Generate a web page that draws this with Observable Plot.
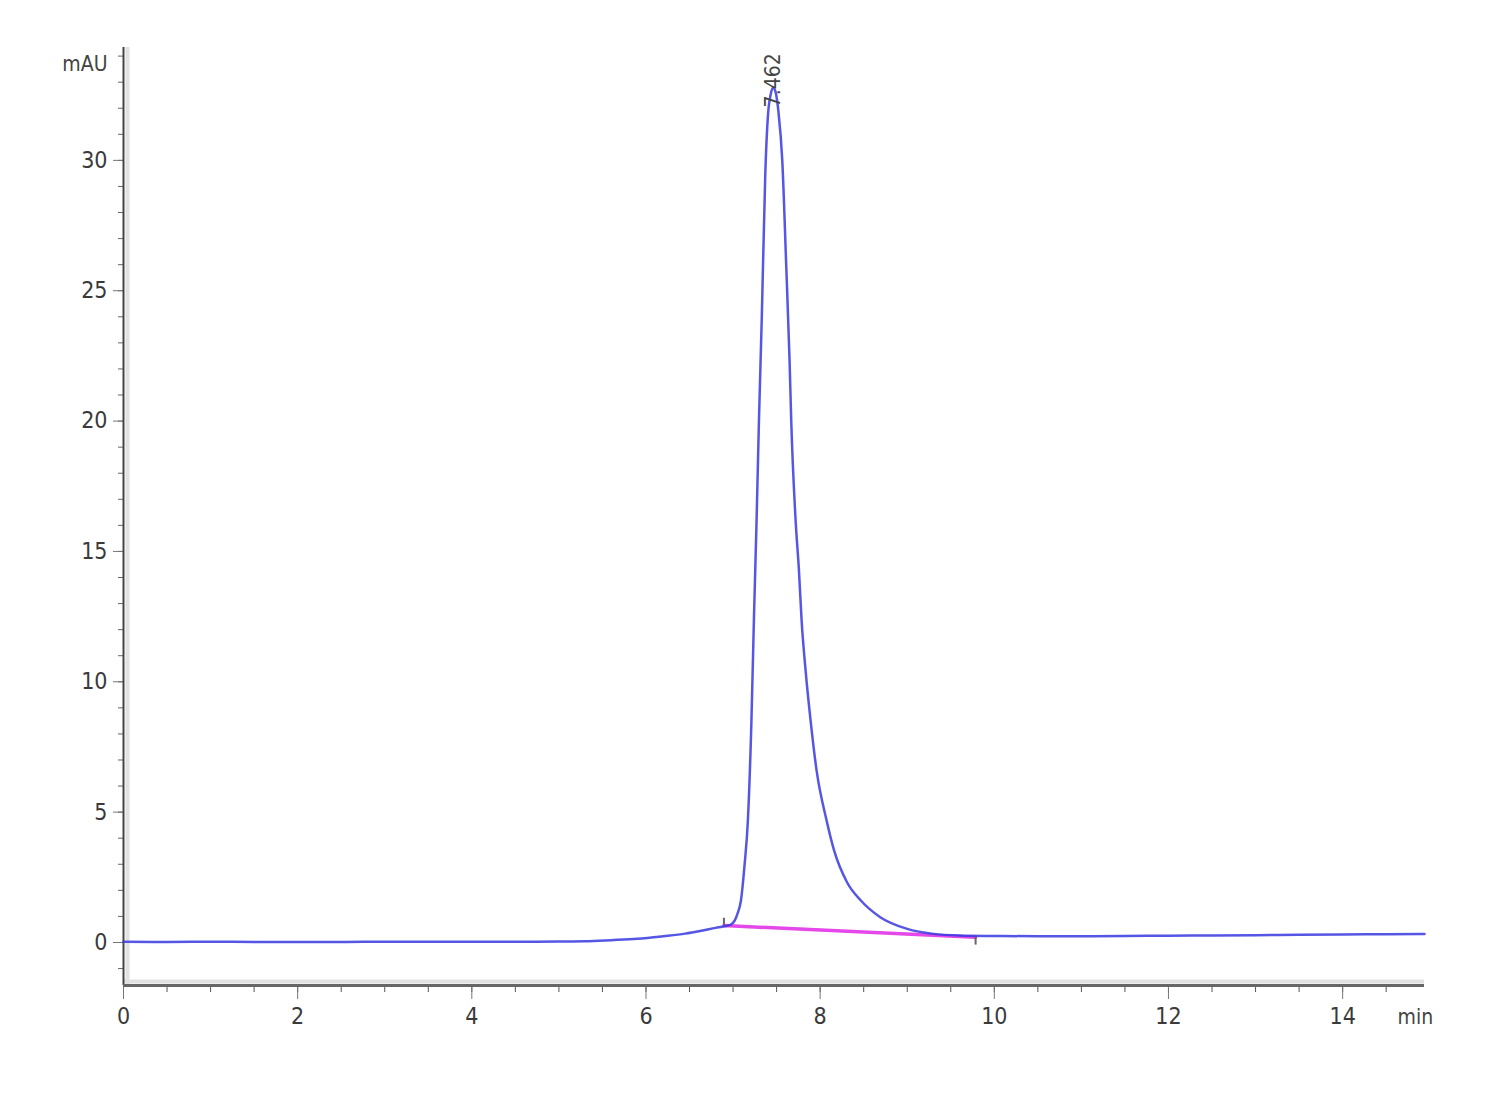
<!DOCTYPE html>
<html><head><meta charset="utf-8">
<script src="https://cdn.jsdelivr.net/npm/d3@7"></script>
<script src="https://cdn.jsdelivr.net/npm/@observablehq/plot@0.6"></script>
<style>body{margin:0;background:#fff} svg{display:block} svg text{font-stretch:condensed}</style>
</head><body><div id="chart"></div>
<script>
// Chromatogram trace (time in min, absorbance in mAU)
const time = [0, 0.5, 1, 1.5, 2, 2.5, 3, 3.5, 4, 4.5, 5, 5.3, 5.6, 5.9, 6.2, 6.45, 6.65, 6.8, 6.9, 6.97,
  7.02, 7.05, 7.09, 7.13, 7.17, 7.21, 7.239, 7.27, 7.297, 7.33, 7.37, 7.40, 7.43, 7.462, 7.49, 7.52, 7.565,
  7.61, 7.649, 7.668, 7.718, 7.756, 7.787, 7.833, 7.89, 7.959, 8.074, 8.16, 8.31, 8.47, 8.69, 9.0, 9.3, 9.6,
  10, 10.5, 11, 11.5, 12, 12.5, 13, 13.5, 14, 14.5, 14.94];
const mAU = [0.03, 0.02, 0.03, 0.02, 0.02, 0.02, 0.03, 0.03, 0.03, 0.03, 0.04, 0.05, 0.09, 0.14, 0.24, 0.34, 0.46, 0.56, 0.62, 0.68,
  0.85, 1.1, 1.6, 2.9, 4.68, 8.4, 12.35, 16.2, 20.0, 24, 29.5, 31.7, 32.5, 32.8, 32.6, 31.9, 30,
  26, 22.3, 20.0, 16.2, 14.3, 12.35, 10.43, 8.52, 6.6, 4.68, 3.53, 2.3, 1.6, 0.97, 0.52, 0.33, 0.27,
  0.25, 0.24, 0.24, 0.25, 0.26, 0.27, 0.28, 0.30, 0.31, 0.32, 0.33];

// Integration baseline (start / end)
const baselineTime = [6.895, 9.785];
const baselineMAU = [0.65, 0.2];
const markerTop = [0.93, 0.2];
const markerBottom = [0.65, -0.1];

// Peak annotation
const peakTime = [7.462];
const peakMAU = [32.8];
const peakLabel = ["7.462"];

// Axes
const xDomain = [0, 14.94];
const yDomain = [-1.65, 34.33];
const xTicks = [0, 2, 4, 6, 8, 10, 12, 14];
const xMinorTicks = d3.range(0, 14.95, 0.5);
const yTicks = [0, 5, 10, 15, 20, 25, 30];
const yMinorTicks = d3.range(-1, 35, 1);
const yUnit = ["mAU"];
const xUnit = ["min"];

const trace = time.map((t, i) => ({t, v: mAU[i]}));
const baseline = baselineTime.map((t, i) => ({t, v: baselineMAU[i]}));
const markers = baselineTime.map((t, i) => ({t, y1: markerBottom[i], y2: markerTop[i]}));
const peaks = peakTime.map((t, i) => ({t, v: peakMAU[i], label: peakLabel[i]}));

const font = '"DejaVu Sans Condensed","Liberation Sans Narrow","DejaVu Sans",sans-serif';

const chart = Plot.plot({
  width: 1500, height: 1100,
  marginLeft: 123, marginRight: 76, marginTop: 47, marginBottom: 115,
  style: {fontFamily: font, fontSize: "23px", color: "#3a3a3a", background: "#fff"},
  x: {domain: xDomain},
  y: {domain: yDomain},
  marks: [
    Plot.ruleY([yDomain[0]], {stroke: "#e2e2e2", strokeWidth: 4, dy: -4}),
    Plot.ruleX([xDomain[0]], {stroke: "#e2e2e2", strokeWidth: 4, dx: 4}),
    Plot.axisX(xMinorTicks, {tickSize: 7, tickFormat: () => "", label: null, stroke: "#555"}),
    Plot.axisX(xTicks, {tickSize: 14, tickPadding: 8, label: null, stroke: "#777", fontSize: 23}),
    Plot.axisY(yMinorTicks, {tickSize: 5, tickFormat: () => "", label: null, stroke: "#666"}),
    Plot.axisY(yTicks, {tickSize: 10, tickPadding: 6, label: null, stroke: "#777", fontSize: 23}),
    Plot.ruleX([xDomain[0]], {stroke: "#444", strokeWidth: 2}),
    Plot.ruleY([yDomain[0]], {stroke: "#666", strokeWidth: 3}),
    Plot.line(baseline, {x: "t", y: "v", stroke: "#e448e8", strokeWidth: 3.5}),
    Plot.ruleX(markers, {x: "t", y1: "y1", y2: "y2", stroke: "#666", strokeWidth: 2}),
    Plot.line(trace, {x: "t", y: "v", stroke: "#3838e0", strokeWidth: 2.5, strokeOpacity: 0.85, curve: "monotone-x"}),
    Plot.text(peaks, {x: "t", y: "v", text: "label", rotate: -90, textAnchor: "start", lineAnchor: "bottom",
      dx: 7, dy: 20, fontSize: 21, fill: "#444"}),
    Plot.text(yUnit, {frameAnchor: "top-left", text: d => d, textAnchor: "end", dx: -16, dy: 9, fontSize: 21, fill: "#444"}),
    Plot.text(xUnit, {frameAnchor: "bottom-right", text: d => d, textAnchor: "start", dx: -27, dy: 38, fontSize: 21, fill: "#444"})
  ]
});
document.getElementById("chart").appendChild(chart);
</script>
</body></html>
